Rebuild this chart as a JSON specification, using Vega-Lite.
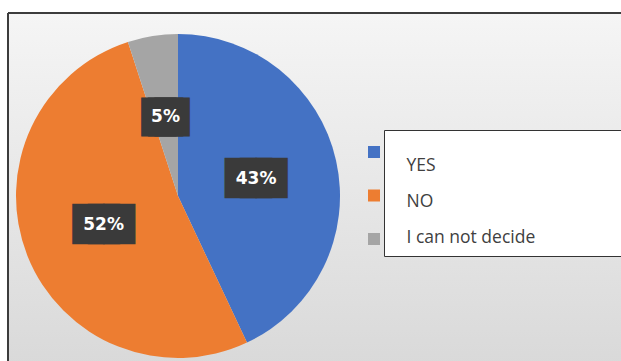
{
  "$schema": "https://vega.github.io/schema/vega-lite/v6.json",
  "background": "#ffffff",
  "padding": {"left": 7, "top": 12, "right": 0, "bottom": 0},
  "spacing": 0,
  "bounds": "flush",
  "data": {
    "values": [
      {"Answer": "YES", "Percent": 0.43},
      {"Answer": "NO", "Percent": 0.52},
      {"Answer": "I can not decide", "Percent": 0.05}
    ]
  },
  "hconcat": [
    {
      "width": 340,
      "height": 366,
      "view": {
        "stroke": "#3c3c3c", "strokeWidth": 2, "strokeDash": [340, 706, 366, 0],
        "fill": {"gradient": "linear", "x1": 0, "y1": 0, "x2": 0, "y2": 1, "stops": [{"offset": 0, "color": "#f5f5f5"}, {"offset": 1, "color": "#d8d8d8"}]}
      },
      "encoding": {
        "theta": {"field": "Percent", "type": "quantitative", "stack": true},
        "order": {"field": "Answer", "sort": "descending"}
      },
      "layer": [
        {
          "mark": {"type": "arc", "outerRadius": 162},
          "encoding": {
            "color": {
              "field": "Answer",
              "type": "nominal",
              "scale": {"domain": ["YES", "NO", "I can not decide"], "range": ["#4472c4", "#ed7d31", "#a5a5a5"]},
              "legend": {
                "orient": "none", "legendX": 360, "legendY": 133, "title": null,
                "symbolType": "square", "symbolSize": 144, "symbolStrokeWidth": 0,
                "labelExpr": "''", "labelFontSize": 1, "labelOffset": 0,
                "rowPadding": 31.5, "padding": 0, "zindex": 0
              }
            }
          }
        },
        {
          "mark": {"type": "text", "radius": 80, "text": "███", "font": "DejaVu Sans", "fill": "#3a3a3a", "stroke": "#3a3a3a", "strokeJoin": "miter", "baseline": "middle", "align": "center"},
          "encoding": {
            "size": {"condition": {"test": "datum.Answer === 'I can not decide'", "value": 8.7}, "value": 20.1},
            "strokeWidth": {"condition": {"test": "datum.Answer === 'I can not decide'", "value": 28.8}, "value": 16.6}
          }
        },
        {
          "mark": {"type": "text", "radius": 80, "font": "DejaVu Sans", "fontWeight": "bold", "fontSize": 17, "fill": "#ffffff", "baseline": "middle", "align": "center"},
          "encoding": {
            "text": {"field": "Percent", "type": "quantitative", "format": ".0%"},
            "opacity": {
              "field": "Answer",
              "type": "nominal",
              "sort": ["YES", "NO", "I can not decide"],
              "scale": {"range": [1, 1, 1]},
              "legend": {
                "orient": "none", "legendX": 376, "legendY": 117,
                "title": " ", "titleFontSize": 1, "titlePadding": 17.5,
                "symbolSize": 0, "symbolOpacity": 0, "symbolStrokeWidth": 0,
                "labelFont": "Open Sans", "labelFontSize": 17.5, "labelColor": "#404040",
                "labelOffset": -4, "rowPadding": 17, "padding": 9,
                "fillColor": "#ffffff", "strokeColor": "#333333",
                "labelExpr": "datum.label + '\u2800\u2800\u2800\u2800\u2800\u2800'",
                "labelLimit": 1000,
                "zindex": 1
              }
            }
          }
        }
      ]
    },
    {
      "width": 280,
      "height": 366,
      "view": {
        "stroke": "#3c3c3c", "strokeWidth": 2, "strokeDash": [280, 1300],
        "fill": {"gradient": "linear", "x1": 0, "y1": 0, "x2": 0, "y2": 1, "stops": [{"offset": 0, "color": "#f5f5f5"}, {"offset": 1, "color": "#d8d8d8"}]}
      },
      "mark": {"type": "text", "text": "", "opacity": 0},
      "encoding": {}
    }
  ]
}
